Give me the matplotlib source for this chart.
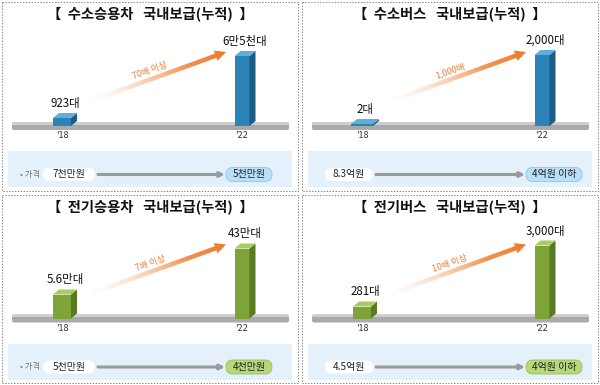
import numpy as np
import matplotlib
matplotlib.use('Agg')
import matplotlib.pyplot as plt
from matplotlib.patches import Polygon, FancyBboxPatch, Rectangle
from matplotlib.colors import to_rgb

plt.rcParams['font.family'] = ['Noto Sans CJK KR', 'DejaVu Sans']

# 데이터
titles = [('수소승용차', '국내보급(누적)'), ('수소버스', '국내보급(누적)'),
          ('전기승용차', '국내보급(누적)'), ('전기버스', '국내보급(누적)')]
years = ["'18", "'22"]
counts = [['923대', '6만5천대'], ['2대', '2,000대'],
          ['5.6만대', '43만대'], ['281대', '3,000대']]
# 그림에서 읽은 막대 높이 (비례 아님)
bar_heights = [[8, 70], [2, 71], [24, 70], [12, 73]]
growth = ['70배 이상', '1,000배', '7배 이상', '10배 이상']
price_from = ['7천만원', '8.3억원', '5천만원', '4.5억원']
price_to = ['5천만원', '4억원 이하', '4천만원', '4억원 이하']
price_tag = [True, False, True, False]

# 스타일
blue = ('#2b83b6', '#1b5d86', '#62aedb')
green = ('#7ea339', '#587a22', '#a9cb64')
bar_colors = [blue, blue, green, green]
pill_colors = ['#b8e0f6', '#b8e0f6', '#b7d87a', '#b7d87a']
pill_edges = ['#8cc8ea', '#8cc8ea', '#98bf55', '#98bf55']
orange = '#ee7a2c'

W, H = 300, 192.5
BASE = 126
DX, DY = 6, 5


def bar3d(ax, xs, hs, widths, cols):
    bars = ax.bar(xs, hs, width=widths, bottom=[BASE - h for h in hs],
                  color=cols[0], edgecolor='none', zorder=4)
    for r in bars:
        x0, w = r.get_x(), r.get_width()
        yt, yb = r.get_y(), r.get_y() + r.get_height()
        side = [(x0 + w, yt), (x0 + w + DX, yt - DY), (x0 + w + DX, yb - DY), (x0 + w, yb)]
        top = [(x0, yt), (x0 + DX, yt - DY), (x0 + w + DX, yt - DY), (x0 + w, yt)]
        ax.add_patch(Polygon(side, closed=True, fc=cols[1], ec='none', zorder=4))
        ax.add_patch(Polygon(top, closed=True, fc=cols[2], ec='none', zorder=4))
    return bars


def grad_arrow(ax, p0, p1, shaft=4.5, head_w=11, head_l=11):
    p0, p1 = np.array(p0, float), np.array(p1, float)
    d = p1 - p0
    L = np.hypot(*d)
    u = d / L
    n = np.array([-u[1], u[0]])
    neck = p0 + u * (L - head_l)
    pts = [p0 + n * shaft / 2, neck + n * shaft / 2, neck + n * head_w / 2, p1,
           neck - n * head_w / 2, neck - n * shaft / 2, p0 - n * shaft / 2]
    poly = Polygon(pts, closed=True, fc='none', ec='none')
    ax.add_patch(poly)
    pts = np.array(pts)
    x0, y0 = pts.min(axis=0) - 2
    x1, y1 = pts.max(axis=0) + 2
    xx, yy = np.meshgrid(np.linspace(x0, x1, 300), np.linspace(y0, y1, 120))
    t = np.clip(((xx - p0[0]) * u[0] + (yy - p0[1]) * u[1]) / L, 0, 1)
    c0, c1 = np.array(to_rgb('#fbd2b0')), np.array(to_rgb(orange))
    img = np.zeros(xx.shape + (4,))
    for k in range(3):
        img[..., k] = c0[k] * (1 - t) + c1[k] * t
    img[..., 3] = np.clip(t * 1.4, 0, 1) ** 1.1
    im = ax.imshow(img, extent=(x0, x1, y0, y1), origin='lower',
                   interpolation='bilinear', zorder=3)
    im.set_clip_path(poly)


fig = plt.figure(figsize=(6, 3.85), dpi=100)

for i in range(4):
    col, row = i % 2, i // 2
    ax = fig.add_axes([col * 0.5, 0.5 - row * 0.5, 0.5, 0.5])
    ax.axis('off')

    # 테두리
    ax.add_patch(Rectangle((2, 2), W - 4, H - 4, fill=False, ec='#8a8a8a',
                           lw=0.7, ls=(0, (1.5, 1.5))))

    ax.text(150, 14, '【  ' + titles[i][0] + '   ' + titles[i][1] + '  】',
            ha='center', va='center', fontsize=10.3, fontweight='heavy', color='#111111')

    # 바닥판
    ax.add_patch(FancyBboxPatch((12, 122), 277, 8, boxstyle='round,pad=0,rounding_size=2',
                                fc='#aaaaaa', ec='none', zorder=2))
    ax.add_patch(Rectangle((12, 122), 277, 2.5, fc='#cdcdcd', ec='none', zorder=2))

    xs = [62, 242]
    widths = [22 if bar_heights[i][0] < 4 else 18, 15]
    bars = bar3d(ax, xs, bar_heights[i], widths, bar_colors[i])
    for b, lab, yr in zip(bars, counts[i], years):
        cx = b.get_x() + b.get_width() / 2
        ax.text(cx + DX / 2, b.get_y() - DY - 3, lab, ha='center', va='bottom',
                fontsize=8.3, color='#111111', zorder=5)
        ax.text(cx, 136, yr, ha='center', va='center', fontsize=6.5, color='#333333')

    # 증가 화살표
    grad_arrow(ax, (88, 102), (226, 52))
    ax.text(150, 71, growth[i], ha='center', va='center', fontsize=6.4,
            color='#e8803a', rotation=20, zorder=5)

    # 가격
    ax.add_patch(Rectangle((8, 151), 284, 36, fc='#e5f1fa', ec='none', zorder=1))
    py = 174.5
    if price_tag[i]:
        ax.text(20, py, '• 가격', ha='left', va='center', fontsize=6, color='#777777')
        fx0, fx1 = 43, 95
    else:
        fx0, fx1 = 25, 73
    ax.add_patch(FancyBboxPatch((fx0, py - 6.5), fx1 - fx0, 13,
                                boxstyle='round,pad=0,rounding_size=6.5',
                                fc='white', ec='none', zorder=2))
    ax.text((fx0 + fx1) / 2, py, price_from[i], ha='center', va='center',
            fontsize=7.2, color='#222222', zorder=3)
    tw = 46 if len(price_to[i]) < 5 else 56
    tx0 = 226
    ax.annotate('', xy=(tx0 - 1, py), xytext=(fx1 + 3, py),
                arrowprops=dict(arrowstyle='-|>', color='#9a9a9a', lw=2.2,
                                mutation_scale=7, shrinkA=0, shrinkB=0), zorder=2)
    ax.add_patch(FancyBboxPatch((tx0, py - 7), tw, 14,
                                boxstyle='round,pad=0,rounding_size=7',
                                fc=pill_colors[i], ec=pill_edges[i], lw=0.6, zorder=2))
    ax.text(tx0 + tw / 2, py, price_to[i], ha='center', va='center',
            fontsize=7.2, color='#222222', zorder=3)

    ax.set_aspect('auto')
    ax.set_xlim(0, W)
    ax.set_ylim(H, 0)

fig.savefig('out.png', dpi=100)
